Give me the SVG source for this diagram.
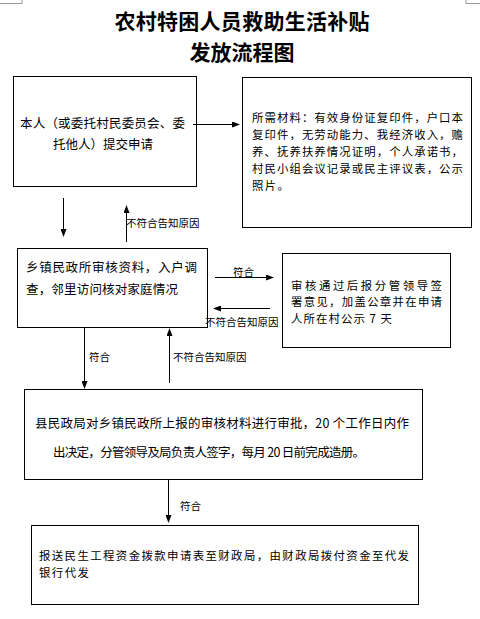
<svg xmlns="http://www.w3.org/2000/svg" width="480" height="619" viewBox="0 0 480 619">
<style>
.box{fill:#fff;stroke:#000;stroke-width:1}
.t{font-family:"Noto Sans CJK SC","Noto Sans",sans-serif;font-size:12.5px;fill:#000}
.s{font-size:11.4px}
.lbl{font-family:"Noto Sans CJK SC","Noto Sans",sans-serif;font-size:10.5px;fill:#000}
.title{font-family:"Noto Sans CJK SC",sans-serif;font-size:21px;font-weight:bold;fill:#000}
.c{stroke:#000;stroke-width:1;fill:none;marker-end:url(#ah)}
.crop{stroke:#999;stroke-width:1;fill:none}
</style>
<defs>
<marker id="ah" markerWidth="8" markerHeight="6" refX="7" refY="3" orient="auto" markerUnits="userSpaceOnUse">
<path d="M0,0 L8,3 L0,6 Z" fill="#000"/>
</marker>
</defs>
<rect width="480" height="619" fill="#fff"/>
<g id="cropmarks">
<path class="crop" d="M22,0 V3.5 H0 M466,0 V3.5 H480"/>
</g>
<g id="title">
<text class="title" x="242" y="29" text-anchor="middle" textLength="255">农村特困人员救助生活补贴</text>
<text class="title" x="242" y="60" text-anchor="middle">发放流程图</text>
</g>
<g id="n1">
<rect class="box" x="13.5" y="76.5" width="183" height="110"/>
<text class="t" x="20" y="127.5" textLength="165">本人（或委托村民委员会、委</text>
<text class="t" x="53" y="148.5" textLength="100">托他人）提交申请</text>
</g>
<g id="n2">
<rect class="box" x="242.5" y="77.5" width="229" height="150"/>
<text class="t s" x="252" y="121.5" textLength="211">所需材料：有效身份证复印件，户口本</text>
<text class="t s" x="252" y="138.5" textLength="211">复印件，无劳动能力、我经济收入，赡</text>
<text class="t s" x="252" y="155.5" textLength="211">养、抚养扶养情况证明，个人承诺书，</text>
<text class="t s" x="252" y="172.5" textLength="211">村民小组会议记录或民主评议表，公示</text>
<text class="t s" x="252" y="189.5" textLength="37">照片。</text>
</g>
<g id="n3">
<rect class="box" x="17.5" y="248.5" width="190" height="79"/>
<text class="t" x="26" y="271.5" textLength="171">乡镇民政所审核资料，入户调</text>
<text class="t" x="26" y="293.5" textLength="152">查，邻里访问核对家庭情况</text>
</g>
<g id="n4">
<rect class="box" x="282.5" y="253.5" width="168" height="94"/>
<text class="t s" x="291" y="289.5" textLength="151">审核通过后报分管领导签</text>
<text class="t s" x="291" y="306" textLength="151">署意见，加盖公章并在申请</text>
<text class="t s" x="291" y="322.5" textLength="101">人所在村公示 7 天</text>
</g>
<g id="n5">
<rect class="box" x="24.5" y="389.5" width="398" height="90"/>
<text class="t" x="35" y="427.5" textLength="374">县民政局对乡镇民政所上报的审核材料进行审批，20 个工作日内作</text>
<text class="t" x="53" y="456.5" textLength="312">出决定，分管领导及局负责人签字，每月 20 日前完成造册。</text>
</g>
<g id="n6">
<rect class="box" x="31.5" y="525.5" width="387" height="79"/>
<text class="t s" x="39" y="559.5" textLength="370">报送民生工程资金拨款申请表至财政局，由财政局拨付资金至代发</text>
<text class="t s" x="39" y="576.5" textLength="50">银行代发</text>
</g>
<g id="connectors">
<line class="c" x1="193" y1="124.5" x2="239" y2="124.5"/>
<line class="c" x1="63.5" y1="198" x2="63.5" y2="236"/>
<line class="c" x1="126.5" y1="242" x2="126.5" y2="206"/>
<line class="c" x1="215" y1="277.5" x2="273" y2="277.5"/>
<line class="c" x1="270" y1="308.5" x2="214" y2="308.5"/>
<line class="c" x1="84.5" y1="327" x2="84.5" y2="388"/>
<line class="c" x1="169.5" y1="383" x2="169.5" y2="329"/>
<line class="c" x1="168.5" y1="479" x2="168.5" y2="522"/>
<text class="lbl" x="126" y="227">不符合告知原因</text>
<text class="lbl" x="233" y="276">符合</text>
<text class="lbl" x="205" y="326">不符合告知原因</text>
<text class="lbl" x="89" y="361">符合</text>
<text class="lbl" x="173" y="361">不符合告知原因</text>
<text class="lbl" x="180" y="510">符合</text>
</g>
</svg>
